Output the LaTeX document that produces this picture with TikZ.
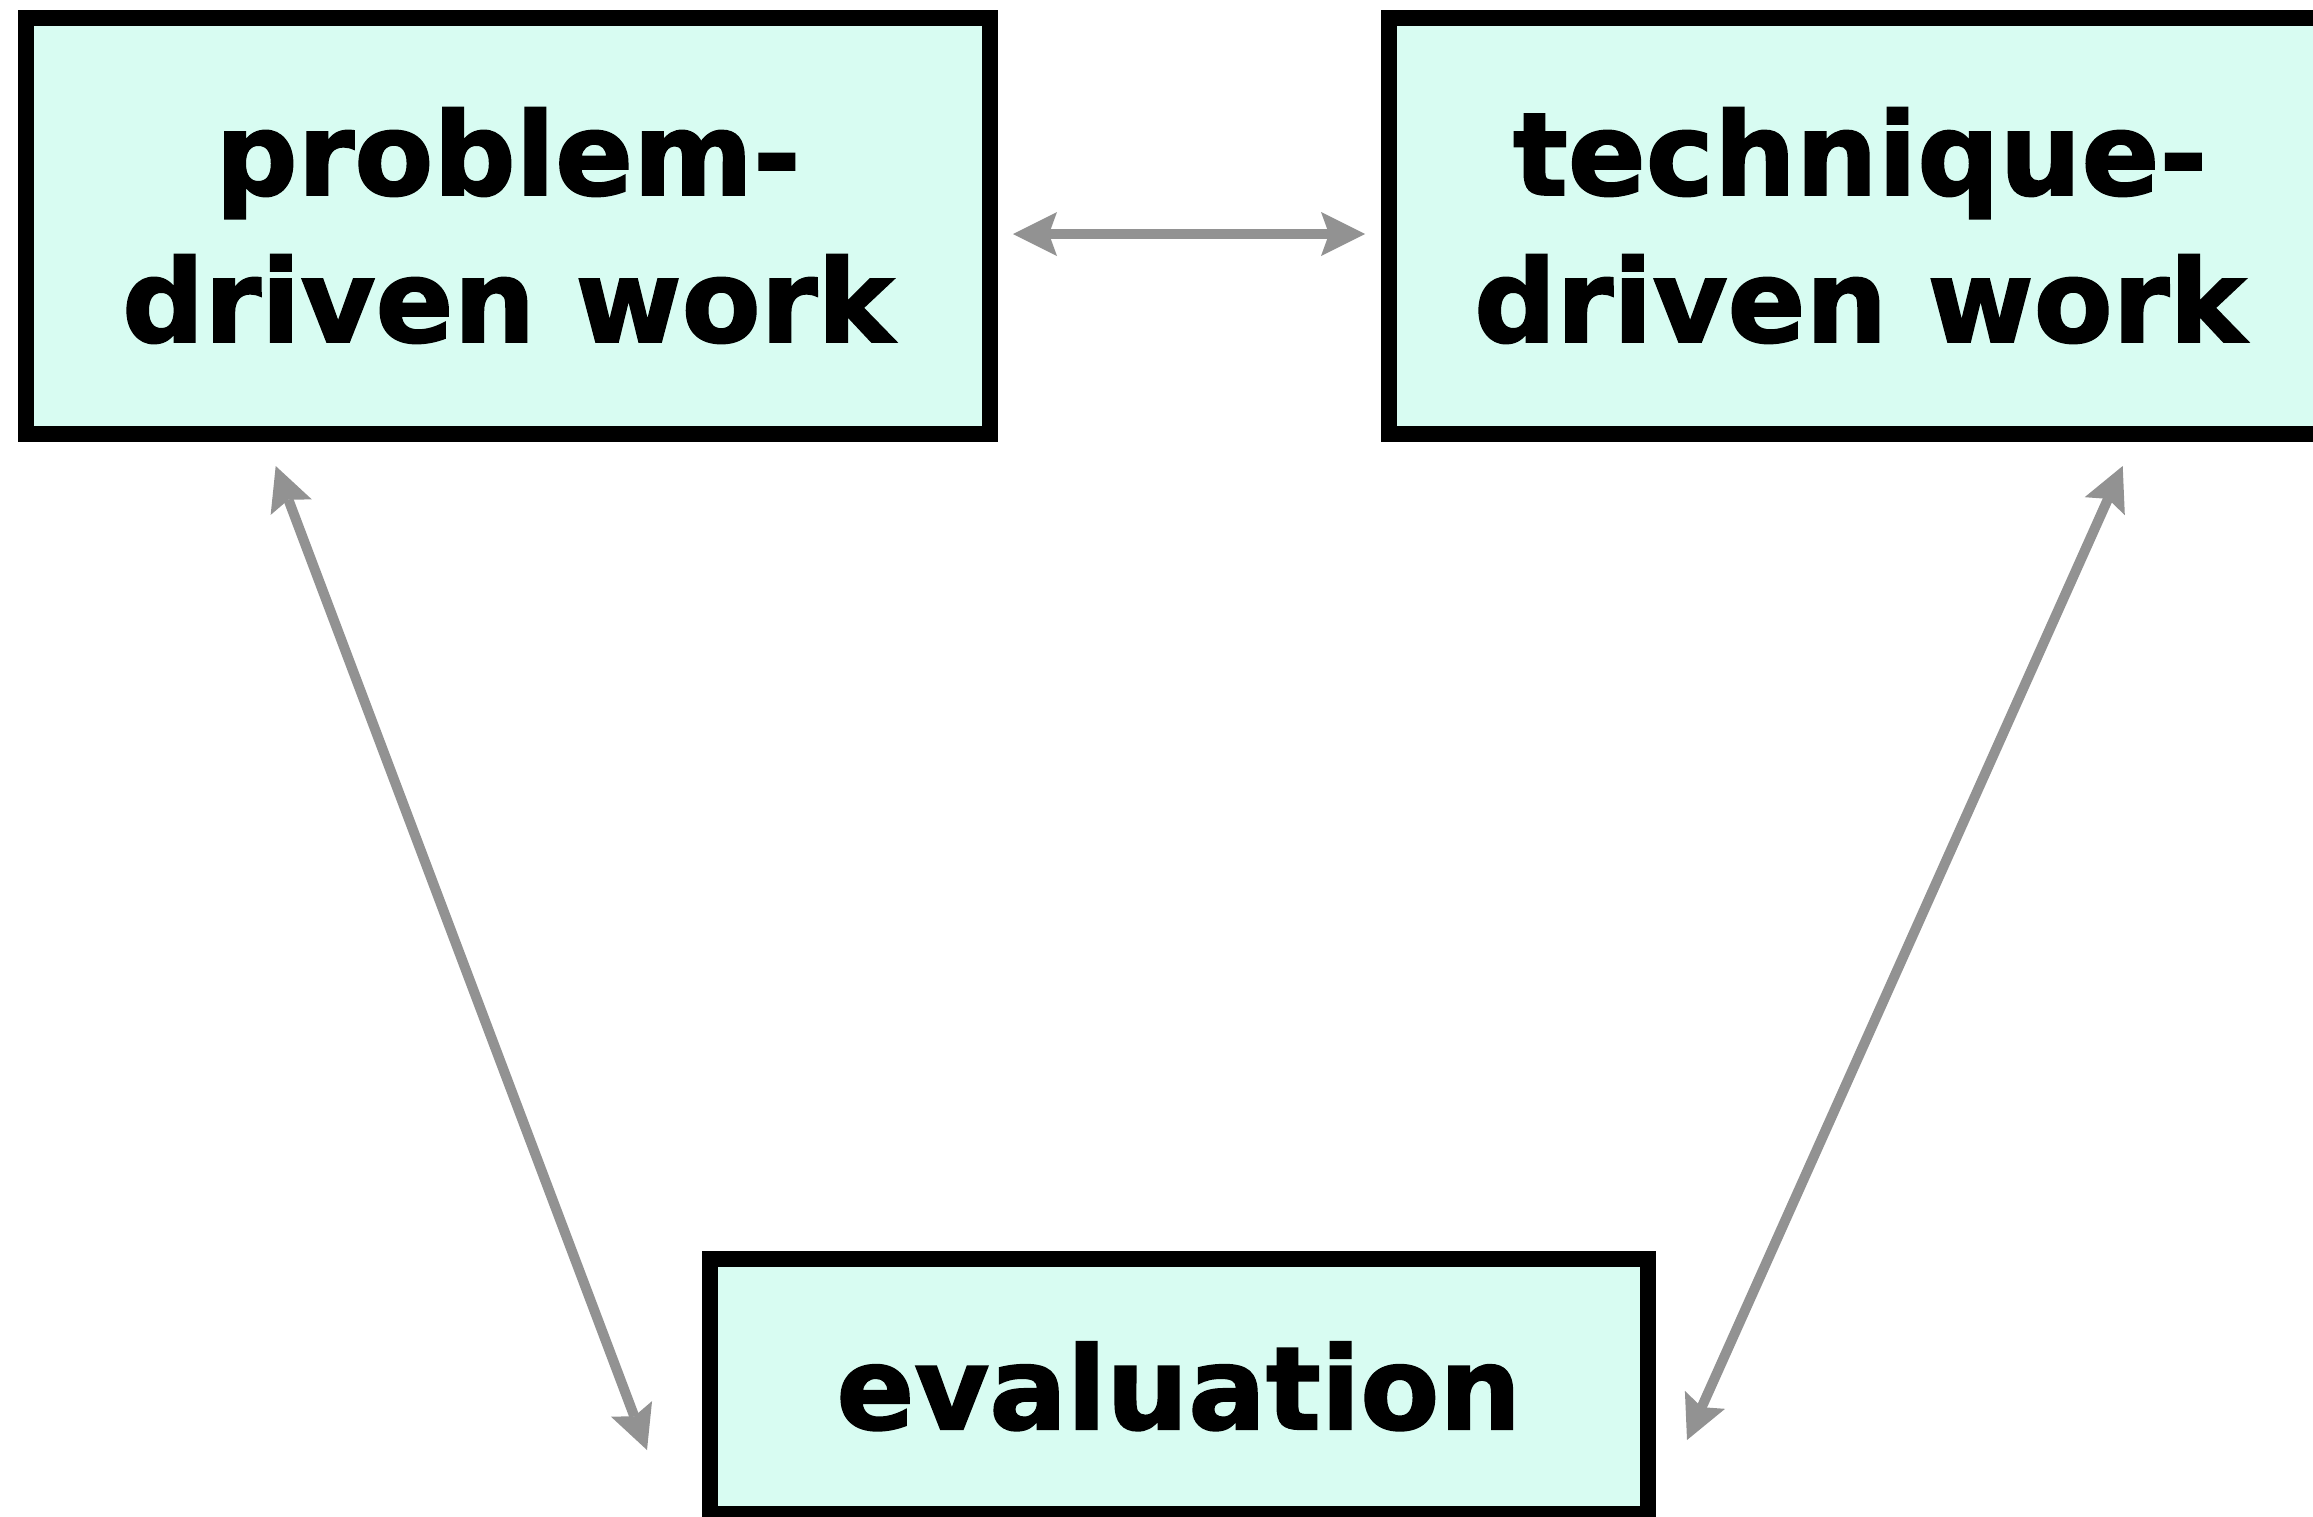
\documentclass[tikz,border=0pt]{standalone}
\usepackage{fontspec}
\setmainfont{DejaVu Sans}[BoldFeatures={FakeBold=1.6}]
\usetikzlibrary{arrows.meta}
\definecolor{boxfill}{RGB}{216,252,242}
\definecolor{arrgray}{RGB}{146,146,146}
\begin{document}
\begin{tikzpicture}[x=0.5pt,y=-0.5pt,
  box/.style={draw=black, line width=8pt, fill=boxfill, inner sep=0pt, outer sep=0pt,
    align=center, font=\fontsize{57.5}{73.5}\selectfont\bfseries},
  tip/.tip={Stealth[length=22pt,width=22pt,inset=4pt,line width=0pt]},
  link/.style={draw=arrgray, line width=5pt, tip-tip}
]
\useasboundingbox (0,0) rectangle (2313,1516);
\node[box, minimum width=482pt, minimum height=208pt] (p) at (508,225.5) {problem-\\driven work};
\node[box, minimum width=471pt, minimum height=208pt] (t) at (1860,225.5) {technique-\\driven work};
\node[box, minimum width=469.25pt, minimum height=127.75pt] (e) at (1178.75,1386.25) {evaluation};
\coordinate (h1) at (1013,234);
\coordinate (h2) at (1365,234);
\coordinate (l1) at (275.7,466);
\coordinate (l2) at (647,1450);
\coordinate (r1) at (2122.7,466);
\coordinate (r2) at (1687,1440);
\draw[link] (h1) -- (h2);
\draw[link] (l1) -- (l2);
\draw[link] (r1) -- (r2);
\end{tikzpicture}
\end{document}
